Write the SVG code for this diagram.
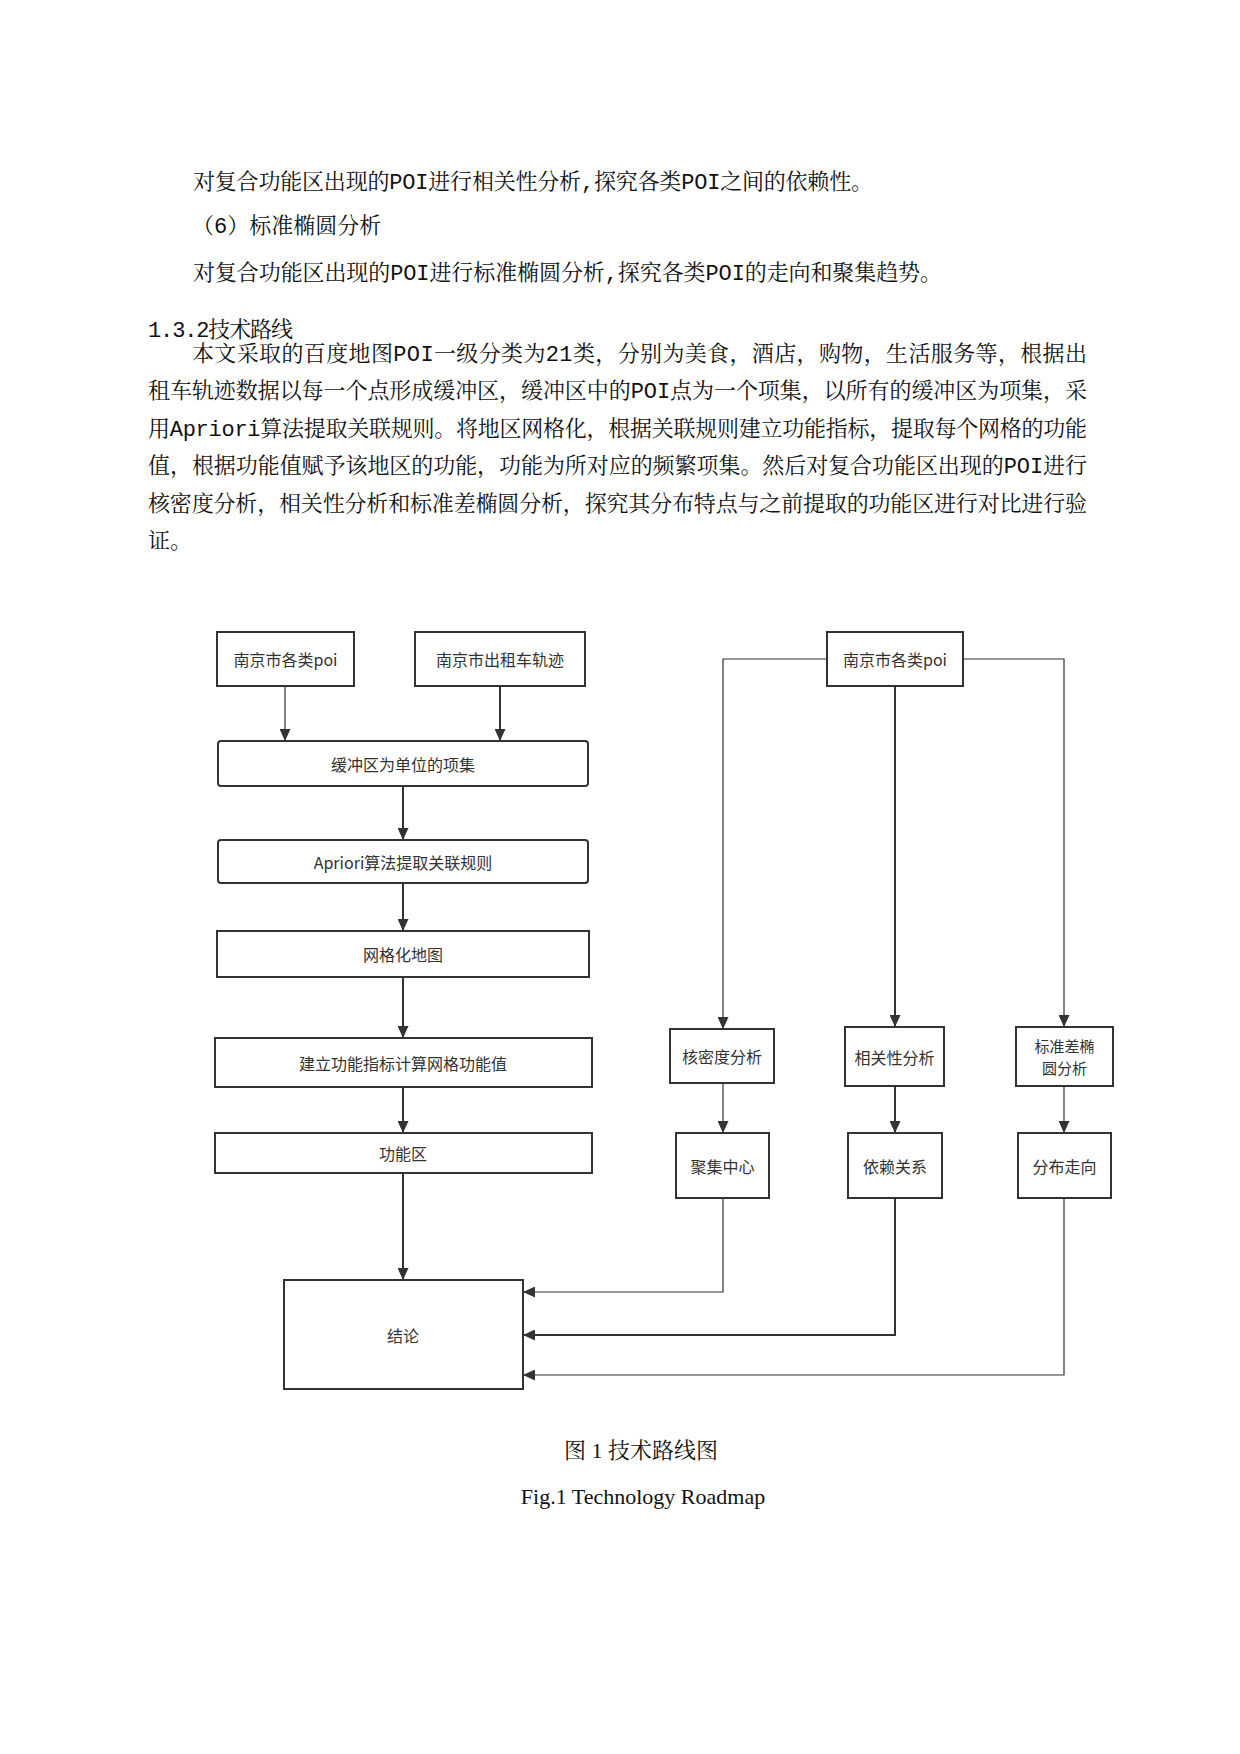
<svg xmlns="http://www.w3.org/2000/svg" width="1240" height="1754" viewBox="0 0 1240 1754">
<style>
.body{font-family:'Liberation Mono','Noto Serif CJK SC','Noto Sans CJK SC',monospace;font-size:22px;fill:#111}
.cap{font-family:'Liberation Serif','Noto Serif CJK SC','Noto Sans CJK SC',serif;font-size:22px;fill:#111}
.box{fill:#fff;stroke:#333;stroke-width:2}
.lbl{font-family:'Noto Sans CJK SC','Liberation Sans',sans-serif;font-size:16px;fill:#333;text-anchor:middle;dominant-baseline:central}
.lbl2{font-size:15px}
.thin{fill:none;stroke:#333;stroke-width:1.2}
.thick{fill:none;stroke:#333;stroke-width:2}
</style>
<defs>
<marker id="ah" markerUnits="userSpaceOnUse" markerWidth="12" markerHeight="11" refX="12" refY="5.5" orient="auto">
<path d="M0,0 L12,5.5 L0,11 z" fill="#333"/>
</marker>
</defs>
<rect width="1240" height="1754" fill="#fff"/>

<g id="text">
<text class="body" x="193" y="189" textLength="680" lengthAdjust="spacing">对复合功能区出现的POI进行相关性分析,探究各类POI之间的依赖性。</text>
<text class="body" x="192" y="233">（6）标准椭圆分析</text>
<text class="body" x="193" y="280" textLength="749" lengthAdjust="spacing">对复合功能区出现的POI进行标准椭圆分析,探究各类POI的走向和聚集趋势。</text>
<text class="body" x="148" y="337" textLength="145" lengthAdjust="spacing">1.3.2技术路线</text>
<text class="body" x="192" y="361" textLength="895" lengthAdjust="spacing">本文采取的百度地图POI一级分类为21类，分别为美食，酒店，购物，生活服务等，根据出</text>
<text class="body" x="148" y="398" textLength="939" lengthAdjust="spacing">租车轨迹数据以每一个点形成缓冲区，缓冲区中的POI点为一个项集，以所有的缓冲区为项集，采</text>
<text class="body" x="148" y="436" textLength="939" lengthAdjust="spacing">用Apriori算法提取关联规则。将地区网格化，根据关联规则建立功能指标，提取每个网格的功能</text>
<text class="body" x="148" y="473" textLength="939" lengthAdjust="spacing">值，根据功能值赋予该地区的功能，功能为所对应的频繁项集。然后对复合功能区出现的POI进行</text>
<text class="body" x="148" y="511" textLength="939" lengthAdjust="spacing">核密度分析，相关性分析和标准差椭圆分析，探究其分布特点与之前提取的功能区进行对比进行验</text>
<text class="body" x="148" y="548">证。</text>
</g>

<g id="connectors">
<line class="thin" x1="285" y1="686" x2="285" y2="741" marker-end="url(#ah)"/>
<line class="thick" x1="500" y1="686" x2="500" y2="741" marker-end="url(#ah)"/>
<line class="thick" x1="403" y1="786" x2="403" y2="840" marker-end="url(#ah)"/>
<line class="thick" x1="403" y1="883" x2="403" y2="931" marker-end="url(#ah)"/>
<line class="thick" x1="403" y1="977" x2="403" y2="1038" marker-end="url(#ah)"/>
<line class="thick" x1="403" y1="1087" x2="403" y2="1133" marker-end="url(#ah)"/>
<line class="thick" x1="403" y1="1173" x2="403" y2="1280" marker-end="url(#ah)"/>
<polyline class="thin" points="827,659 723,659 723,1029" marker-end="url(#ah)"/>
<line class="thick" x1="895" y1="686" x2="895" y2="1027" marker-end="url(#ah)"/>
<polyline class="thin" points="963,659 1064,659 1064,1027" marker-end="url(#ah)"/>
<line class="thin" x1="723" y1="1083" x2="723" y2="1133" marker-end="url(#ah)"/>
<line class="thick" x1="895" y1="1086" x2="895" y2="1133" marker-end="url(#ah)"/>
<line class="thin" x1="1064" y1="1086" x2="1064" y2="1133" marker-end="url(#ah)"/>
<polyline class="thin" points="723,1198 723,1292 523,1292" marker-end="url(#ah)"/>
<polyline class="thick" points="895,1198 895,1335 523,1335" marker-end="url(#ah)"/>
<polyline class="thin" points="1064,1198 1064,1375 523,1375" marker-end="url(#ah)"/>
</g>

<g id="n-poi-left"><rect class="box" x="217" y="632" width="137" height="54"/><text class="lbl" x="285.5" y="659">南京市各类poi</text></g>
<g id="n-taxi"><rect class="box" x="415" y="632" width="170" height="54"/><text class="lbl" x="500" y="659">南京市出租车轨迹</text></g>
<g id="n-itemset"><rect class="box" x="218" y="741" width="370" height="45" rx="3"/><text class="lbl" x="403" y="763.5">缓冲区为单位的项集</text></g>
<g id="n-apriori"><rect class="box" x="218" y="840" width="370" height="43" rx="3"/><text class="lbl" x="403" y="861.5">Apriori算法提取关联规则</text></g>
<g id="n-grid"><rect class="box" x="217" y="931" width="372" height="46"/><text class="lbl" x="403" y="954">网格化地图</text></g>
<g id="n-index"><rect class="box" x="215" y="1038" width="377" height="49"/><text class="lbl" x="403" y="1062.5">建立功能指标计算网格功能值</text></g>
<g id="n-func"><rect class="box" x="215" y="1133" width="377" height="40"/><text class="lbl" x="403" y="1153">功能区</text></g>
<g id="n-concl"><rect class="box" x="284" y="1280" width="239" height="109"/><text class="lbl" x="403" y="1334.5">结论</text></g>
<g id="n-poi-right"><rect class="box" x="827" y="632" width="136" height="54"/><text class="lbl" x="895" y="659">南京市各类poi</text></g>
<g id="n-kde"><rect class="box" x="670" y="1029" width="104" height="54"/><text class="lbl" x="722" y="1056">核密度分析</text></g>
<g id="n-corr"><rect class="box" x="845" y="1027" width="99" height="59"/><text class="lbl" x="894.5" y="1056.5">相关性分析</text></g>
<g id="n-sde"><rect class="box" x="1016" y="1027" width="97" height="59"/><text class="lbl lbl2" x="1064.5" y="1045.5">标准差椭</text><text class="lbl lbl2" x="1064.5" y="1067.5">圆分析</text></g>
<g id="n-cluster"><rect class="box" x="676" y="1133" width="93" height="65"/><text class="lbl" x="722.5" y="1165.5">聚集中心</text></g>
<g id="n-depend"><rect class="box" x="848" y="1133" width="94" height="65"/><text class="lbl" x="895" y="1165.5">依赖关系</text></g>
<g id="n-dir"><rect class="box" x="1018" y="1133" width="93" height="65"/><text class="lbl" x="1064.5" y="1165.5">分布走向</text></g>

<g id="caption">
<text class="cap" x="641" y="1458" text-anchor="middle">图 1 技术路线图</text>
<text class="cap" x="643" y="1504" text-anchor="middle">Fig.1 Technology Roadmap</text>
</g>
</svg>
